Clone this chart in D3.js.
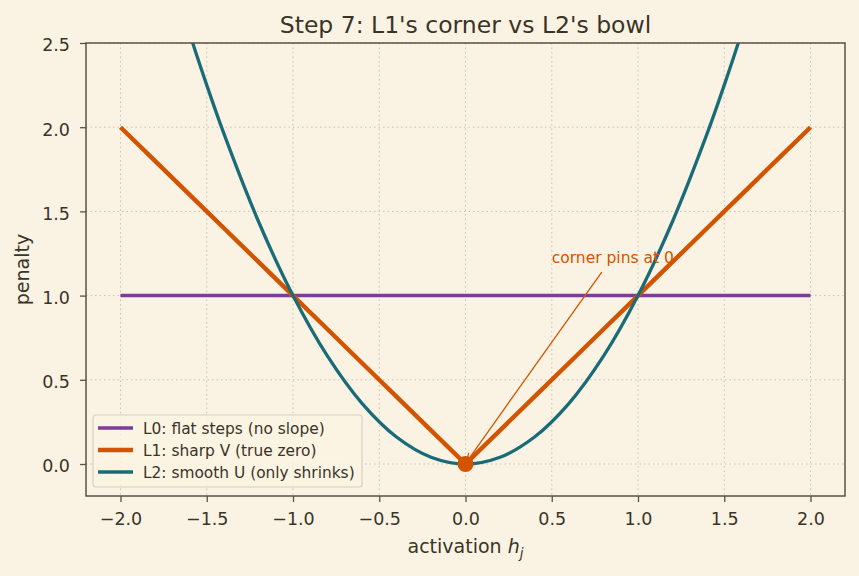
<!DOCTYPE html>
<html>
<head>
<meta charset="utf-8">
<script src="https://cdn.jsdelivr.net/npm/d3@7"></script>
<style>
  body { margin: 0; background: #faf3e3; }
  svg { display: block; font-family: "DejaVu Sans", sans-serif; }
</style>
</head>
<body>
<div id="chart"></div>
<script>
// values
const hValues = [-2.0, -1.8, -1.6, -1.5, -1.4, -1.2, -1.0, -0.8, -0.6, -0.4, -0.2, 0.0,
                 0.2, 0.4, 0.6, 0.8, 1.0, 1.2, 1.4, 1.5, 1.6, 1.8, 2.0]
const l0Values = [1, 1, 1, 1, 1, 1, 1, 1, 1, 1, 1, 1, 1, 1, 1, 1, 1, 1, 1, 1, 1, 1, 1]
const l1Values = [2.0, 1.8, 1.6, 1.5, 1.4, 1.2, 1.0, 0.8, 0.6, 0.4, 0.2, 0.0,
                  0.2, 0.4, 0.6, 0.8, 1.0, 1.2, 1.4, 1.5, 1.6, 1.8, 2.0]
const l2Values = [4.0, 3.24, 2.56, 2.25, 1.96, 1.44, 1.0, 0.64, 0.36, 0.16, 0.04, 0.0,
                  0.04, 0.16, 0.36, 0.64, 1.0, 1.44, 1.96, 2.25, 2.56, 3.24, 4.0]

const xTicks = [-2.0, -1.5, -1.0, -0.5, 0.0, 0.5, 1.0, 1.5, 2.0]
const yTicks = [0.0, 0.5, 1.0, 1.5, 2.0, 2.5]

const series = [
  { name: "L0: flat steps (no slope)", values: l0Values, color: "#7d3c98", width: 3.5 },
  { name: "L1: sharp V (true zero)", values: l1Values, color: "#d35400", width: 4.4 },
  { name: "L2: smooth U (only shrinks)", values: l2Values, color: "#1a6b78", width: 3.3 },
]

const annotation = { text: "corner pins at 0", textX: 0.5, textY: 1.2, fromX: 0.79, fromY: 1.14, toX: 0, toY: 0 }

const W = 859, H = 576
const margin = { top: 43, right: 14, bottom: 80, left: 86 }
const width = W - margin.left - margin.right
const height = H - margin.top - margin.bottom

const ink = "#3a3328"
const spine = "#5c5242"

const svg = d3.select("#chart").append("svg")
  .attr("width", W).attr("height", H)
  .style("background", "#faf3e3")

const x = d3.scaleLinear().domain([-2.2, 2.2]).range([0, width])
const y = d3.scaleLinear().domain([-0.19, 2.5]).range([height, 0])

const g = svg.append("g").attr("transform", `translate(${margin.left},${margin.top})`)

// grid
g.append("g").selectAll("line").data(xTicks).join("line")
  .attr("x1", d => x(d)).attr("x2", d => x(d)).attr("y1", 0).attr("y2", height)
  .attr("stroke", "#c8c0b0").attr("stroke-width", 1).attr("stroke-dasharray", "1.5,3")
g.append("g").selectAll("line").data(yTicks).join("line")
  .attr("y1", d => y(d)).attr("y2", d => y(d)).attr("x1", 0).attr("x2", width)
  .attr("stroke", "#c8c0b0").attr("stroke-width", 1).attr("stroke-dasharray", "1.5,3")

g.append("clipPath").attr("id", "clip")
  .append("rect").attr("width", width).attr("height", height)

const line = d3.line().x(d => x(d[0])).y(d => y(d[1]))
const lineCurve = d3.line().x(d => x(d[0])).y(d => y(d[1])).curve(d3.curveCatmullRom)

const plot = g.append("g").attr("clip-path", "url(#clip)")
series.forEach((s, i) => {
  const pts = hValues.map((h, k) => [h, s.values[k]])
  plot.append("path")
    .attr("d", i === 2 ? lineCurve(pts) : line(pts))
    .attr("fill", "none")
    .attr("stroke", s.color)
    .attr("stroke-width", s.width)
})

// annotation arrow
const orange = "#d35400"
svg.append("defs").append("marker")
  .attr("id", "arrow").attr("viewBox", "0 0 10 10").attr("refX", 10).attr("refY", 5)
  .attr("markerWidth", 9).attr("markerHeight", 9).attr("orient", "auto-start-reverse")
  .attr("markerUnits", "userSpaceOnUse")
  .append("path").attr("d", "M0,1 L10,5 L0,9").attr("fill", "none").attr("stroke", orange).attr("stroke-width", 1.3)

g.append("line")
  .attr("x1", x(annotation.fromX)).attr("y1", y(annotation.fromY))
  .attr("x2", x(annotation.toX) + 1).attr("y2", y(annotation.toY) - 2)
  .attr("stroke", orange).attr("stroke-width", 1.3)
  .attr("marker-end", "url(#arrow)")

g.append("text")
  .attr("x", x(annotation.textX)).attr("y", y(annotation.textY) + 1)
  .attr("fill", orange).attr("font-size", 15.5)
  .text(annotation.text)

g.append("circle")
  .attr("cx", x(0)).attr("cy", y(0)).attr("r", 8).attr("fill", orange)

// axes
const xAxis = g.append("g").attr("transform", `translate(0,${height})`)
  .call(d3.axisBottom(x).tickValues(xTicks).tickFormat(d => d3.format(".1f")(d).replace("-", "\u2212")).tickSizeOuter(0).tickSize(6).tickPadding(11))
const yAxis = g.append("g")
  .call(d3.axisLeft(y).tickValues(yTicks).tickFormat(d3.format(".1f")).tickSizeOuter(0).tickSize(6).tickPadding(10))
;[xAxis, yAxis].forEach(a => {
  a.select(".domain").remove()
  a.selectAll(".tick line").attr("stroke", spine).attr("stroke-width", 1.3)
  a.selectAll(".tick text").attr("fill", ink).attr("font-size", 17.5).attr("font-family", "DejaVu Sans")
})
yAxis.selectAll(".tick text").attr("dy", "0.45em")

g.append("rect").attr("width", width).attr("height", height)
  .attr("fill", "none").attr("stroke", spine).attr("stroke-width", 1.5)

// labels
svg.append("text").attr("x", margin.left + width / 2).attr("y", 33)
  .attr("text-anchor", "middle").attr("fill", ink).attr("font-size", 23.5)
  .text("Step 7: L1's corner vs L2's bowl")

const xl = svg.append("text").attr("x", margin.left + width / 2).attr("y", 553)
  .attr("text-anchor", "middle").attr("fill", ink).attr("font-size", 19)
xl.append("tspan").text("activation ")
xl.append("tspan").attr("font-style", "italic").text("h")
xl.append("tspan").attr("font-style", "italic").attr("font-size", 13.5).attr("dy", 5).text("j")

svg.append("text").attr("transform", `translate(29,${margin.top + height / 2}) rotate(-90)`)
  .attr("text-anchor", "middle").attr("fill", ink).attr("font-size", 19)
  .text("penalty")

// legend
const leg = g.append("g").attr("transform", "translate(7,372)")
leg.append("rect").attr("width", 269).attr("height", 72).attr("rx", 3)
  .attr("fill", "#faf3e3").attr("fill-opacity", 0.85).attr("stroke", "#d6d0c4").attr("stroke-width", 1.2)
series.forEach((s, i) => {
  const row = leg.append("g").attr("transform", `translate(0,${13 + i * 22})`)
  row.append("line").attr("x1", 5).attr("x2", 40).attr("stroke", s.color).attr("stroke-width", s.width)
  row.append("text").attr("x", 50).attr("y", 5.5).attr("fill", ink).attr("font-size", 15.4).text(s.name)
})
</script>
</body>
</html>
